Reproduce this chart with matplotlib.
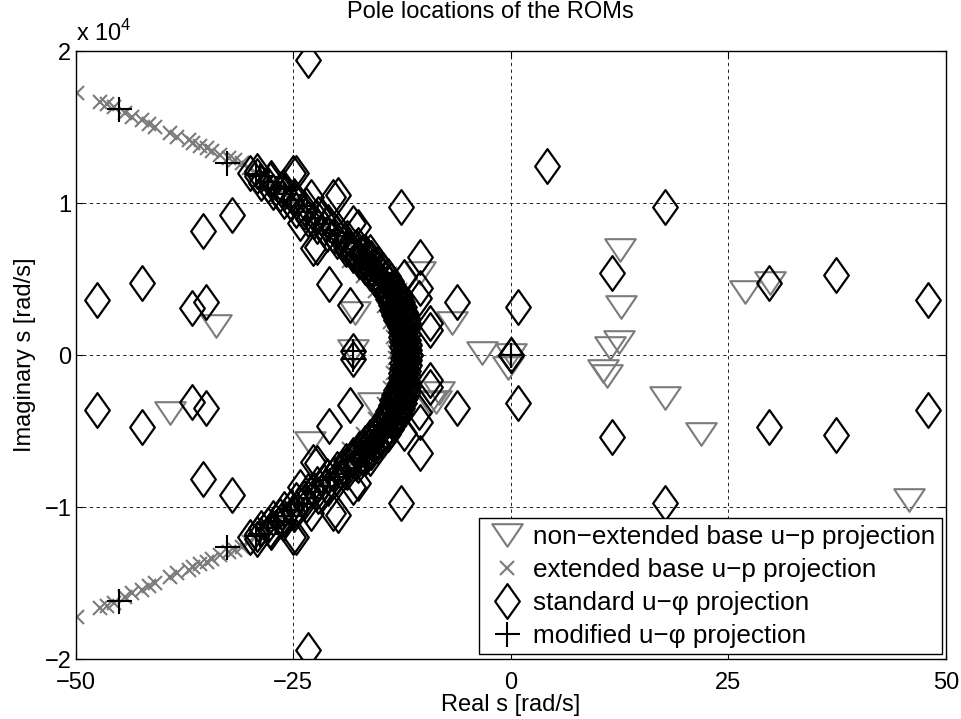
import matplotlib
matplotlib.use("Agg")
import matplotlib.pyplot as plt
import numpy as np
from matplotlib.path import Path

plt.rcParams["font.family"] = ["Liberation Sans", "DejaVu Sans"]
plt.rcParams["mathtext.fontset"] = "custom"
plt.rcParams["mathtext.rm"] = "Liberation Sans"

# non-extended base u-p projection (listed individually)
tri_re = [-33.9, -39.2, -23.1, -10.4, -17.9, -6.7, -3.3, -18.1, -8.3, -9.3, -15.8,
          -8.6, 0.0, -0.3, 12.6, 12.7, 12.4, 11.4, 10.6, 11.0, 17.7, 21.8, 26.9,
          29.8, 45.7]
tri_im = [1930, -3820, -5800, 5430, 2740, 2140, 160, 280, -2470, -3180, -3220,
          -3070, 0, -880, 6940, 3140, 870, 490, -1070, -1370, -2800, -5210, 4170,
          4770, -9560]

# extended base u-p projection, upper half (conjugate pairs)
ext_re = [-49.8, -47.2, -46.4, -45.6, -44.3, -43.5, -42.4, -41.6, -40.9, -39.1,
          -38.4, -37.0, -36.5, -35.7, -34.9, -34.3, -33.4, -32.4, -31.7, -30.9,
          -30.1, -29.3, -28.6, -27.6, -26.8, -25.9, -25.0, -24.1, -23.2, -22.3,
          -21.4, -20.5, -19.6, -18.7, -17.8, -16.9, -16.0, -15.3, -14.6, -14.0,
          -13.5, -13.2, -12.85, -12.6, -12.4, -12.25, -12.1, -12.0,
          -13.3, -13.5, -13.9, -14.6, -15.6, -17.0, -18.6,
          -11.0, -11.1, -11.3, -11.8, -12.7, -13.9, -15.5]
ext_im = [17220, 16670, 16510, 16290, 15900, 15680, 15460, 15200, 14980, 14590,
          14360, 14140, 13930, 13750, 13600, 13440, 13160, 12940, 12830, 12610,
          12300, 12000, 11700, 11300, 10900, 10500, 10100, 9700, 9300, 8900,
          8500, 8100, 7700, 7300, 6900, 6400, 5900, 5400, 4900, 4400,
          3900, 3400, 2900, 2400, 1900, 1400, 900, 400,
          200, 1200, 2200, 3200, 4200, 5200, 6200,
          300, 1300, 2300, 3300, 4300, 5300, 6300]

# standard u-phi projection, upper half (conjugate pairs): scattered poles
std_re = [-23.3, 4.2, 17.7, -47.5, -42.4, -35.3, -32.0, -36.6, -35.0, 11.6,
          -6.2, 0.8, 29.7, 37.4, 47.9, -12.6, -24.7, -19.8, -20.9, -10.4,
          -17.5, -18.5, -10.6, -9.3, -16.2, -22.7, -22.9, -10.4, -12.3, -9.3,
          -25.0, -20.4, -22.3, -24.2, -18.1, -18.1, 0.0]
std_im = [19410, 12430, 9740, 3620, 4720, 8160, 9210, 3070, 3510, 5370,
          3510, 3180, 4720, 5260, 3620, 9710, 11950, 10530, 4670, 6470,
          8400, 3300, 3730, 1640, 6800, 7020, 10420, 4390, 5150, 2080,
          11950, 10420, 7130, 8660, 8660, 250, 0]

# standard u-phi projection, poles crowding the arc (two interleaved rows)
arc1_re = [-11.6, -12.4, -11.65, -12.45, -11.7, -12.5, -11.75, -12.6, -11.8, -12.65,
           -11.9, -12.75, -12.0, -12.9, -12.15, -13.05, -12.35, -13.25, -12.55, -13.45,
           -12.8, -13.7, -13.0, -13.9, -13.3, -14.25, -13.6, -14.6, -14.0, -15.0,
           -14.45, -15.5, -15.0, -16.1, -15.6, -16.75, -16.3, -17.5, -17.05, -18.2,
           -17.8, -19.2, -19.0, -20.35, -20.1, -21.5, -21.25, -22.6, -22.35, -23.8,
           -23.7, -25.2, -25.05, -26.5, -26.4, -27.85, -27.7, -29.15, -29.1]
arc1_im = [0, 170, 340, 510, 680, 850, 1020, 1190, 1360, 1530,
           1700, 1870, 2040, 2210, 2380, 2550, 2720, 2890, 3060, 3230,
           3400, 3570, 3740, 3910, 4080, 4250, 4420, 4590, 4760, 4930,
           5100, 5300, 5500, 5700, 5900, 6100, 6300, 6500, 6700, 6900,
           7100, 7350, 7600, 7850, 8100, 8350, 8600, 8850, 9100, 9400,
           9700, 10000, 10300, 10600, 10900, 11200, 11500, 11800, 12100]
arc2_re = [-12.0, -12.05, -12.05, -12.1, -12.1, -12.1, -12.15, -12.2, -12.2, -12.3,
           -12.3, -12.4, -11.75, -13.2, -11.9, -13.4, -12.1, -13.6, -12.3, -13.8,
           -12.55, -14.05, -12.75, -14.3, -13.05, -14.6, -13.4, -15.0, -13.8, -15.6,
           -14.05, -16.15, -14.65, -16.75, -15.3, -17.4, -16.0, -18.15, -16.7, -18.9,
           -17.6, -20.0, -18.8, -21.1, -19.9, -22.3, -21.0, -23.35, -22.15, -24.65,
           -23.55, -26.0, -24.9, -27.35, -26.2, -28.7, -27.5, -30.0]
arc2_im = [85, 255, 425, 595, 765, 935, 1105, 1275, 1445, 1615,
           1785, 1955, 2125, 2295, 2465, 2635, 2805, 2975, 3145, 3315,
           3485, 3655, 3825, 3995, 4165, 4335, 4505, 4675, 4845, 5015,
           5200, 5400, 5600, 5800, 6000, 6200, 6400, 6600, 6800, 7000,
           7225, 7475, 7725, 7975, 8225, 8475, 8725, 8975, 9250, 9550,
           9850, 10150, 10450, 10750, 11050, 11350, 11650, 11950]

# modified u-phi projection, upper half (conjugate pairs)
mod_re = [-45.0, -32.6, -29.3, -26.8, -23.4, -20.2, -17.0, -14.7, -13.2, -12.4,
          -12.1, -18.1, 0.0,
          -12.0, -12.1, -12.15, -12.25, -12.35, -12.5, -12.7, -12.9, -13.2, -13.45,
          -13.8, -14.25, -15.3, -15.9, -16.55, -17.3, -18.0, -18.9, -19.8, -20.75,
          -21.6, -22.5, -24.35, -25.25, -26.1, -27.0, -27.9, -28.8]
mod_im = [16160, 12610, 11900, 10900, 9400, 8000, 6400, 4900, 3300, 1900,
          600, 250, 0,
          200, 600, 1000, 1400, 1800, 2200, 2600, 3000, 3400, 3800,
          4200, 4600, 5400, 5800, 6200, 6600, 7000, 7400, 7800, 8200,
          8600, 9000, 9800, 10200, 10600, 11000, 11400, 11800]

labels = ["non\u2212extended base u\u2212p projection",
          "extended base u\u2212p projection",
          "standard u\u2212\u03c6 projection",
          "modified u\u2212\u03c6 projection"]

x_ticks = [-50, -25, 0, 25, 50]
y_ticks = [-20000, -10000, 0, 10000, 20000]
y_tick_labels = ["\u22122", "\u22121", "0", "1", "2"]

GRAY = "#7b7b7b"
DIAMOND = Path([(0, 0.5), (0.355, 0), (0, -0.5), (-0.355, 0), (0, 0.5)],
               [Path.MOVETO, Path.LINETO, Path.LINETO, Path.LINETO, Path.CLOSEPOLY])
TRIANGLE = Path([(-0.5, 0.37), (0.5, 0.37), (0, -0.37), (-0.5, 0.37)],
                [Path.MOVETO, Path.LINETO, Path.LINETO, Path.CLOSEPOLY])


def conj(re, im):
    re = np.asarray(re, dtype=float)
    im = np.asarray(im, dtype=float)
    return np.concatenate([re, re]), np.concatenate([im, -im])


fig = plt.figure(figsize=(9.61, 7.19), dpi=100)
ax = fig.add_axes([0.0786, 0.0834, 0.9058, 0.8456])

h1, = ax.plot(tri_re, tri_im, linestyle="none", marker=TRIANGLE, markersize=22,
              markerfacecolor="none", markeredgecolor=GRAY, markeredgewidth=1.5)
xr, xi = conj(ext_re, ext_im)
h2, = ax.plot(xr, xi, linestyle="none", marker="x", markersize=9.5,
              markeredgecolor=GRAY, markeredgewidth=1.5)
dr, di = conj(std_re + arc1_re + arc2_re, std_im + arc1_im + arc2_im)
h3, = ax.plot(dr, di, linestyle="none", marker=DIAMOND, markersize=25,
              markerfacecolor="none", markeredgecolor="black", markeredgewidth=1.6)
pr, pi = conj(mod_re, mod_im)
h4, = ax.plot(pr, pi, linestyle="none", marker="+", markersize=18,
              markeredgecolor="black", markeredgewidth=1.5)

ax.set_xlim(-50, 50)
ax.set_ylim(-20000, 20000)
ax.set_xticks(x_ticks)
ax.set_xticklabels([str(t).replace("-", "\u2212") for t in x_ticks])
ax.set_yticks(y_ticks)
ax.set_yticklabels(y_tick_labels)
ax.tick_params(direction="in", length=5, width=0.8, top=True, right=True,
               labelsize=17)
ax.tick_params(axis="x", pad=9)
ax.tick_params(axis="y", pad=3)
for s in ax.spines.values():
    s.set_linewidth(1.0)
ax.grid(True, color="black", linewidth=0.6, linestyle=(0, (4, 4)))

fig.text(0.5106, 1 - 12 / 719, "Pole locations of the ROMs", ha="center",
         va="center", fontsize=17)
ax.set_xlabel("Real s [rad/s]", fontsize=17, labelpad=0)
ax.set_ylabel("Imaginary s [rad/s]", fontsize=17, labelpad=6)
ax.text(0.0, 1.008, r"x 10$^{\mathregular{4}}$", transform=ax.transAxes,
        ha="left", va="bottom", fontsize=17)

leg = ax.legend([h1, h2, h3, h4], labels, loc="lower right",
                bbox_to_anchor=(0.995, 0.008), borderaxespad=0, fontsize=18.8,
                fancybox=False, framealpha=1, edgecolor="black",
                handletextpad=0.2, labelspacing=0.34, borderpad=0.25,
                handlelength=1.6)
leg.get_frame().set_linewidth(1.0)

fig.savefig("out.png", dpi=100)
